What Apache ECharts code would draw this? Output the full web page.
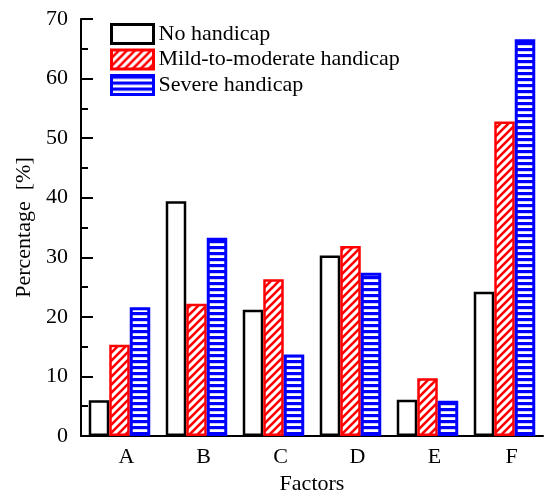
<!DOCTYPE html>
<html><head><meta charset="utf-8">
<script src="https://cdn.jsdelivr.net/npm/echarts@6/dist/echarts.min.js"></script>
<style>html,body{margin:0;padding:0;background:#fff}#c{width:544px;height:490px}</style>
</head><body><div id="c"></div>
<script>
const categories = ['A', 'B', 'C', 'D', 'E', 'F'];
const seriesNames = ['No handicap', 'Mild-to-moderate handicap', 'Severe handicap'];
const noHandicap = [6.0, 39.4, 21.2, 30.3, 6.1, 24.2];
const mildHandicap = [15.3, 22.2, 26.3, 31.9, 9.7, 52.8];
const severeHandicap = [21.6, 33.3, 13.7, 27.4, 5.9, 66.6];
const yMin = 0, yMax = 70, yInterval = 10;

function diagPattern() {
  const s = 8;
  const c = document.createElement('canvas');
  c.width = s; c.height = s;
  const ctx = c.getContext('2d');
  ctx.fillStyle = '#ffffff'; ctx.fillRect(0, 0, s, s);
  ctx.strokeStyle = '#ff0000'; ctx.lineWidth = 2.6;
  ctx.beginPath();
  for (const k of [-s, 0, s]) { ctx.moveTo(k - 1, s + 1); ctx.lineTo(k + s + 1, -1); }
  ctx.stroke();
  return c;
}
function horizPattern() {
  const c = document.createElement('canvas');
  c.width = 6; c.height = 6;
  const ctx = c.getContext('2d');
  ctx.fillStyle = '#ffffff'; ctx.fillRect(0, 0, 6, 6);
  ctx.fillStyle = '#0000ff'; ctx.fillRect(0, 0, 6, 3.2);
  return c;
}
const font = 'Liberation Serif';
const fs = 22;
const chart = echarts.init(document.getElementById('c'), null, {renderer: 'canvas'});
chart.setOption({
  animation: false,
  backgroundColor: '#fff',
  grid: {left: 81, right: 1, top: 19, bottom: 54, containLabel: false, outerBoundsMode: 'none'},
  legend: {
    orient: 'vertical', left: 110, top: 23, padding: 0,
    itemWidth: 42, itemHeight: 19, itemGap: 3.5,
    icon: 'rect',
    itemStyle: {borderWidth: 3},
    textStyle: {fontFamily: font, fontSize: fs, color: '#000', lineHeight: 20},
    data: seriesNames
  },
  xAxis: {
    type: 'category', data: categories,
    name: 'Factors', nameLocation: 'middle', nameGap: 29,
    nameTextStyle: {fontFamily: font, fontSize: fs, color: '#000'},
    axisLine: {lineStyle: {color: '#000', width: 2}},
    axisTick: {show: true, inside: true, alignWithLabel: true, length: 13, lineStyle: {color: '#000', width: 2}},
    axisLabel: {fontFamily: font, fontSize: fs, color: '#000', margin: 10, padding: [0, 0, 0, 14]},
    splitLine: {show: false}
  },
  yAxis: {
    type: 'value', min: yMin, max: yMax, interval: yInterval,
    name: 'Percentage  [%]', nameLocation: 'middle', nameGap: 45.5,
    nameTextStyle: {fontFamily: font, fontSize: fs, color: '#000'},
    axisLine: {show: true, lineStyle: {color: '#000', width: 2}},
    axisTick: {show: true, inside: true, length: 12, lineStyle: {color: '#000', width: 2}},
    minorTick: {show: true, splitNumber: 2, length: 7, lineStyle: {color: '#000', width: 2}},
    axisLabel: {fontFamily: font, fontSize: fs, color: '#000', margin: 13},
    splitLine: {show: false}
  },
  series: [
    {name: seriesNames[0], type: 'bar', data: noHandicap, barWidth: 20.5, barGap: '0%',
     itemStyle: {color: '#ffffff', borderColor: '#000000', borderWidth: 2.5}},
    {name: seriesNames[1], type: 'bar', data: mildHandicap, barWidth: 20.5, barGap: '0%',
     itemStyle: {color: {image: diagPattern(), repeat: 'repeat'}, borderColor: '#ff0000', borderWidth: 2.5}},
    {name: seriesNames[2], type: 'bar', data: severeHandicap, barWidth: 20.5, barGap: '0%',
     itemStyle: {color: {image: horizPattern(), repeat: 'repeat'}, borderColor: '#0000ff', borderWidth: 3}}
  ]
});
</script></body></html>
